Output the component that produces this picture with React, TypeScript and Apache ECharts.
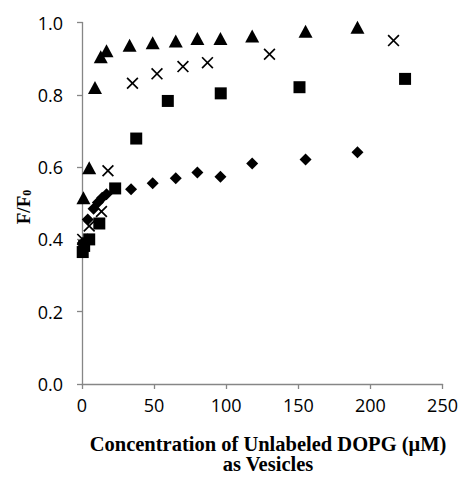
import React, { useEffect, useRef } from "react";
import * as echarts from "echarts";

const xTicks = [0, 50, 100, 150, 200, 250];
const yTicks = [0, 0.2, 0.4, 0.6, 0.8, 1.0];

const triangles: [number, number][] = [
  [1, 0.515], [5, 0.598], [9, 0.82], [13, 0.905], [17, 0.922], [33, 0.937],
  [49, 0.944], [65, 0.949], [80, 0.956], [96, 0.956], [118, 0.963],
  [155, 0.976], [191, 0.987],
];
const crosses: [number, number][] = [
  [0.5, 0.4], [5, 0.437], [13.5, 0.477], [18, 0.59], [35, 0.832], [52, 0.858],
  [70, 0.878], [87, 0.889], [130, 0.912], [216, 0.95],
];
const squares: [number, number][] = [
  [0.5, 0.365], [1.5, 0.382], [5, 0.4], [12, 0.444], [23, 0.541],
  [37.6, 0.679], [59.5, 0.783], [96.2, 0.804], [150.8, 0.821], [224, 0.844],
];
const diamonds: [number, number][] = [
  [0.5, 0.39], [4, 0.455], [8, 0.485], [11, 0.502], [14, 0.515], [17, 0.525],
  [34, 0.539], [49, 0.555], [65, 0.569], [80, 0.585], [96, 0.573],
  [118, 0.61], [155, 0.621], [191, 0.641],
];

const crossPath =
  "path://M0,1 L1,0 L10,9 L9,10 Z M9,0 L10,1 L1,10 L0,9 Z";

export default function App() {
  const ref = useRef<HTMLDivElement>(null);
  useEffect(() => {
    document.body.style.margin = "0";
    const chart = echarts.init(ref.current!, undefined, { renderer: "svg" });
    const axisColor = "#868686";
    const mark = { color: "#000", opacity: 1 };
    chart.setOption({
      animation: false,
      backgroundColor: "#ffffff",
      grid: { left: 82, right: 17, top: 22.5, bottom: 99 },
      xAxis: {
        type: "value",
        min: xTicks[0],
        max: xTicks[xTicks.length - 1],
        interval: 50,
        axisLine: { show: true, lineStyle: { color: axisColor, width: 1.3 } },
        axisTick: { show: true, length: 5, lineStyle: { color: axisColor, width: 1.3 } },
        splitLine: { show: false },
        axisLabel: {
          color: "#000",
          fontSize: 18,
          fontFamily: "Open Sans",
          margin: 12,
          formatter: (v: number) => String(v),
        },
      },
      yAxis: {
        type: "value",
        min: yTicks[0],
        max: yTicks[yTicks.length - 1],
        interval: 0.2,
        axisLine: { show: true, lineStyle: { color: axisColor, width: 1.3 } },
        axisTick: { show: true, length: 5, lineStyle: { color: axisColor, width: 1.3 } },
        splitLine: { show: false },
        axisLabel: {
          color: "#000",
          fontSize: 18,
          fontFamily: "Open Sans",
          margin: 19,
          formatter: (v: number) => v.toFixed(1),
        },
      },
      graphic: [
        {
          type: "text",
          x: 268,
          y: 454,
          style: {
            text: "Concentration of Unlabeled DOPG (μM)\nas Vesicles",
            fontFamily: "Liberation Serif",
            fontWeight: "bold",
            fontSize: 20.5,
            lineHeight: 20,
            fill: "#000",
            align: "center",
            verticalAlign: "middle",
          },
        },
        {
          type: "text",
          x: 23,
          y: 207,
          rotation: Math.PI / 2,
          style: {
            text: "{m|F/F}{s|0}",
            align: "center",
            verticalAlign: "middle",
            rich: {
              m: {
                fontFamily: "Liberation Serif",
                fontWeight: "bold",
                fontSize: 19,
                fill: "#000",
              },
              s: {
                fontFamily: "Liberation Serif",
                fontWeight: "bold",
                fontSize: 12,
                fill: "#000",
                padding: [8, 0, 0, 0],
              },
            },
          },
        },
      ],
      series: [
        {
          type: "scatter",
          data: squares,
          symbol: "rect",
          symbolSize: 12,
          itemStyle: mark,
        },
        {
          type: "scatter",
          data: diamonds,
          symbol: "diamond",
          symbolSize: 12,
          itemStyle: mark,
        },
        {
          type: "scatter",
          data: crosses,
          symbol: crossPath,
          symbolSize: 12,
          itemStyle: mark,
        },
        {
          type: "scatter",
          data: triangles,
          symbol: "triangle",
          symbolSize: [14, 13],
          itemStyle: mark,
        },
      ],
    });
    return () => chart.dispose();
  }, []);
  return <div ref={ref} style={{ width: 461, height: 483 }} />;
}
